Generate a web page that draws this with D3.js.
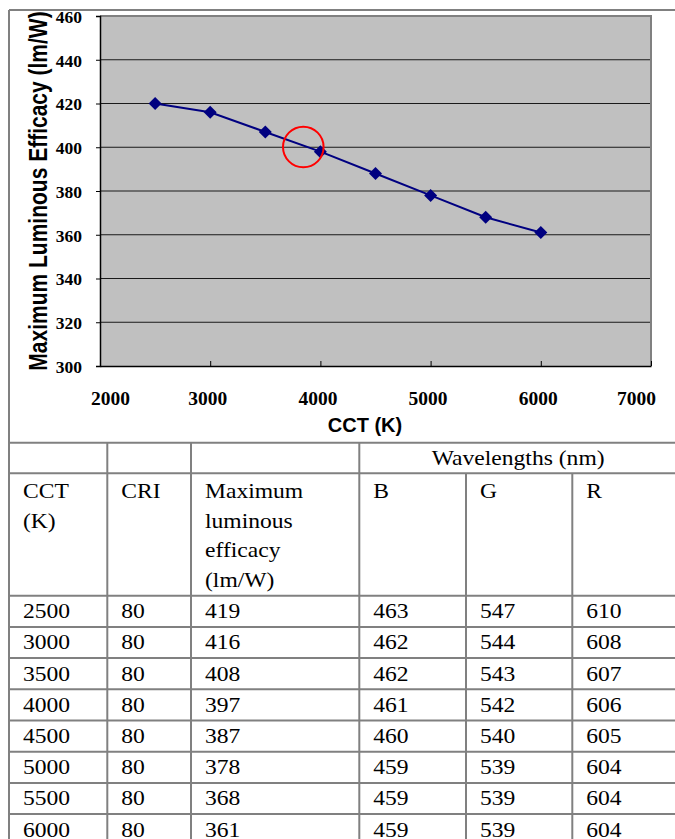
<!DOCTYPE html>
<html>
<head>
<meta charset="utf-8">
<script src="https://cdn.jsdelivr.net/npm/d3@7/dist/d3.min.js"></script>
<style>
  html, body { margin: 0; padding: 0; background: #fff; }
  svg { display: block; }
</style>
</head>
<body>
<script>
// ---------- data ----------
const chartCCT = [2500, 3000, 3500, 4000, 4500, 5000, 5500, 6000];
const chartEfficacy = [420, 416, 407, 398, 388, 378, 368, 361];
const xTickValues = [2000, 3000, 4000, 5000, 6000, 7000];
const yTickValues = [300, 320, 340, 360, 380, 400, 420, 440, 460];
const xTitle = "CCT (K)";
const yTitle = "Maximum Luminous Efficacy (lm/W)";

const tableGroupHeader = "Wavelengths (nm)";
const tableHeaders = [["CCT", "(K)"], ["CRI"], ["Maximum", "luminous", "efficacy", "(lm/W)"], ["B"], ["G"], ["R"]];
const tableCCT = [2500, 3000, 3500, 4000, 4500, 5000, 5500, 6000];
const tableCRI = [80, 80, 80, 80, 80, 80, 80, 80];
const tableEfficacy = [419, 416, 408, 397, 387, 378, 368, 361];
const tableB = [463, 462, 462, 461, 460, 459, 459, 459];
const tableG = [547, 544, 543, 542, 540, 539, 539, 539];
const tableR = [610, 608, 607, 606, 605, 604, 604, 604];

// ---------- layout ----------
const W = 675, H = 839;
const svg = d3.select("body").append("svg").attr("width", W).attr("height", H);
const grey = "#808080";

const plot = { left: 100, top: 16, right: 651, bottom: 366 };
const x = d3.scaleLinear().domain([2000, 7000]).range([plot.left, plot.right]);
const y = d3.scaleLinear().domain([300, 460]).range([plot.bottom, plot.top]);

// outer frame (chart cell)
svg.append("line").attr("x1", 9).attr("x2", 680).attr("y1", 10).attr("y2", 10)
  .attr("stroke", grey).attr("stroke-width", 2);
svg.append("line").attr("x1", 9).attr("x2", 9).attr("y1", 10).attr("y2", 845)
  .attr("stroke", grey).attr("stroke-width", 2);

// plot area background
svg.append("rect").attr("x", plot.left).attr("y", plot.top)
  .attr("width", plot.right - plot.left).attr("height", plot.bottom - plot.top)
  .attr("fill", "#c0c0c0");

// gridlines
svg.append("g").selectAll("line").data(yTickValues.filter(v => v > 300 && v < 460)).join("line")
  .attr("x1", plot.left).attr("x2", plot.right)
  .attr("y1", d => y(d)).attr("y2", d => y(d))
  .attr("stroke", "#1a1a1a").attr("stroke-width", 1);

// plot border (top/right grey)
svg.append("path")
  .attr("d", `M${plot.left},${plot.top}H${plot.right}V${plot.bottom}`)
  .attr("fill", "none").attr("stroke", grey).attr("stroke-width", 2);

const serifB = "'Liberation Serif', 'Times New Roman', serif";

// y axis
const yAxis = d3.axisLeft(y).tickValues(yTickValues).tickFormat(d3.format("d")).tickSize(4).tickPadding(14);
const gy = svg.append("g").attr("transform", `translate(${plot.left},0)`).call(yAxis);
gy.select(".domain").attr("stroke", "#000").attr("stroke-width", 1.5);
gy.selectAll(".tick line").attr("stroke", "#000");
gy.selectAll(".tick text")
  .attr("font-family", serifB)
  .attr("font-weight", "bold").attr("font-size", 17.5).attr("fill", "#000")
  .attr("dy", "0.36em");

// x axis (ticks inside)
const xAxis = d3.axisBottom(x).tickValues(xTickValues).tickFormat(d3.format("d"))
  .tickSizeInner(-5).tickSizeOuter(0).tickPadding(28);
const gx = svg.append("g").attr("transform", `translate(0,${plot.bottom})`).call(xAxis);
gx.select(".domain").attr("stroke", "#000").attr("stroke-width", 1.5);
gx.selectAll(".tick line").attr("stroke", "#000");
gx.selectAll(".tick text")
  .attr("font-family", serifB)
  .attr("font-weight", "bold").attr("font-size", 19.5).attr("fill", "#000")
  .attr("dy", 0).attr("y", 39)
  .attr("dx", (d, i) => i === 0 ? 10 : (i === xTickValues.length - 1 ? -15 : -3));

// axis titles
svg.append("text")
  .attr("transform", `translate(47,191) scale(1.2,1) rotate(-90)`)
  .attr("text-anchor", "middle")
  .attr("font-family", "'Liberation Sans', Arial, sans-serif")
  .attr("font-weight", "bold").attr("font-size", 21).attr("fill", "#000")
  .text(yTitle);
svg.append("text")
  .attr("x", 365).attr("y", 432)
  .attr("text-anchor", "middle")
  .attr("font-family", "'Liberation Sans', Arial, sans-serif")
  .attr("font-weight", "bold").attr("font-size", 20).attr("fill", "#000")
  .text(xTitle);

// series line
const pts = chartCCT.map((c, i) => [c, chartEfficacy[i]]);
svg.append("path").datum(pts)
  .attr("d", d3.line().x(d => x(d[0])).y(d => y(d[1])))
  .attr("fill", "none").attr("stroke", "#000080").attr("stroke-width", 2);
svg.append("g").selectAll("path").data(pts).join("path")
  .attr("transform", d => `translate(${x(d[0])},${y(d[1])})`)
  .attr("d", "M0,-6.5L6.5,0L0,6.5L-6.5,0Z")
  .attr("fill", "#000080");

// red circle annotation
svg.append("circle").attr("cx", 303.3).attr("cy", 147).attr("r", 20.3)
  .attr("fill", "none").attr("stroke", "#ff0000").attr("stroke-width", 2);

// ---------- table ----------
const colX = [9, 107.3, 191, 359.3, 466, 572.3, 677];
const rowTop = 442.7, hdr1 = 473.3, hdr2 = 595.7, rowH = 31.2;
const nRows = tableCCT.length;
const tableBottom = hdr2 + rowH * nRows;
const tg = svg.append("g").attr("stroke", grey).attr("stroke-width", 2);

// horizontal lines
const hLines = [rowTop, hdr1, hdr2].concat(d3.range(1, nRows + 1).map(i => hdr2 + i * rowH));
tg.selectAll("line.h").data(hLines).join("line").attr("class", "h")
  .attr("x1", 9).attr("x2", 680).attr("y1", d => d).attr("y2", d => d);
// vertical lines
colX.forEach((cx, i) => {
  const startY = (i === 4 || i === 5) ? hdr1 : rowTop;
  tg.append("line").attr("x1", cx).attr("x2", cx).attr("y1", startY).attr("y2", tableBottom);
});

const serif = "'Liberation Serif', 'Times New Roman', serif";
const sx = 1.15, fs = 20.5;
function cellText(tx, ty, str, anchor) {
  svg.append("text")
    .attr("transform", `translate(${tx},${ty}) scale(${sx},1)`)
    .attr("text-anchor", anchor || "start")
    .attr("font-family", serif).attr("font-size", fs).attr("fill", "#000")
    .text(str);
}
const pad = 14;
// group header
cellText((colX[3] + colX[6]) / 2, 465, tableGroupHeader, "middle");
// column headers
tableHeaders.forEach((lines, c) => {
  lines.forEach((ln, k) => cellText(colX[c] + pad, 498 + k * 29.5, ln));
});
// data rows
const cols = [tableCCT, tableCRI, tableEfficacy, tableB, tableG, tableR];
cols.forEach((arr, c) => {
  arr.forEach((v, r) => cellText(colX[c] + pad, hdr2 + r * rowH + 22.5, String(v)));
});
</script>
</body>
</html>
